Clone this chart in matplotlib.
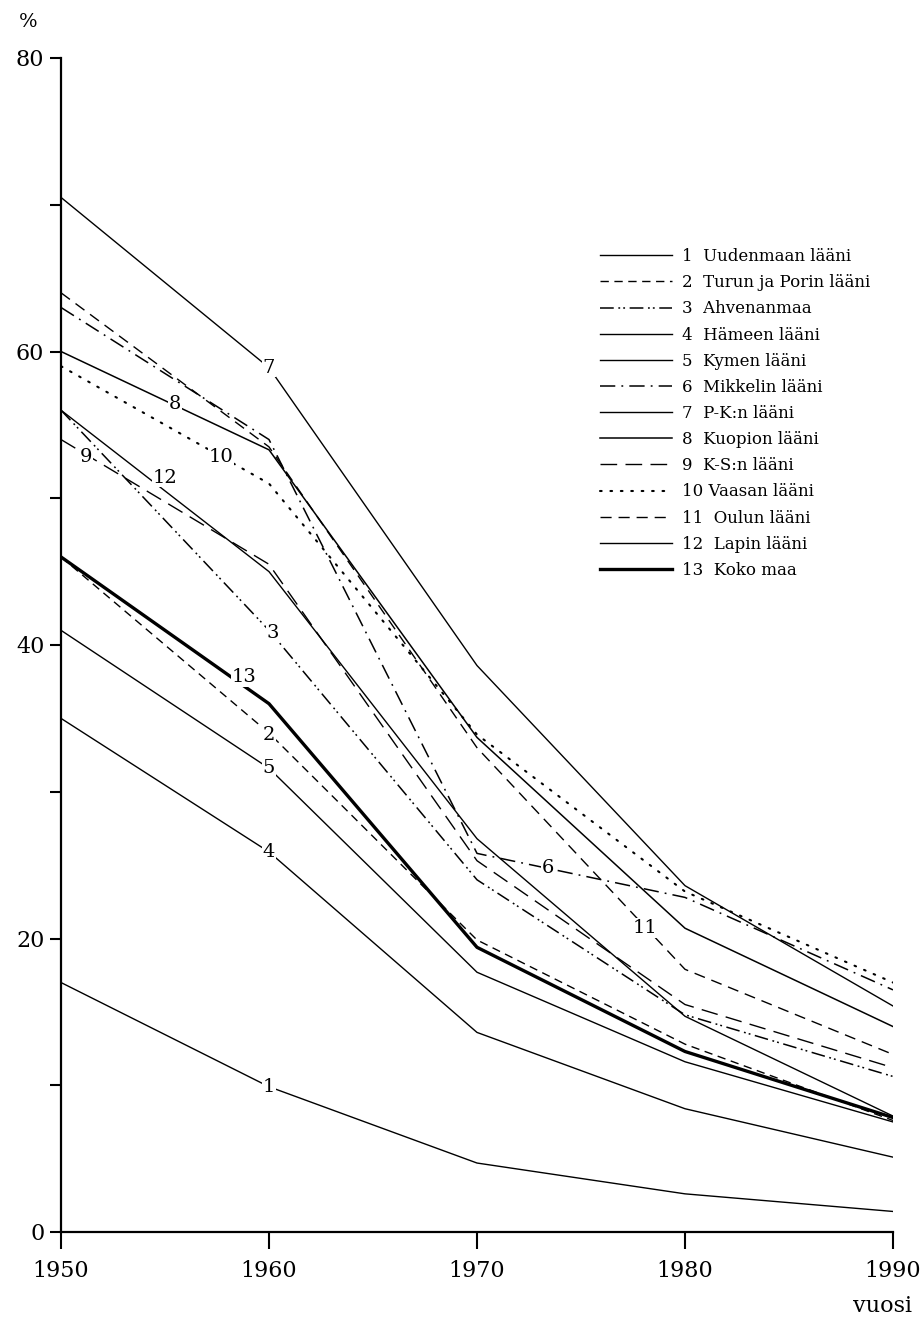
import matplotlib
matplotlib.use("Agg")
import matplotlib.pyplot as plt

# Years on the x axis
YEARS = [1950, 1960, 1970, 1980, 1990]

# Share (%) per province
S1_UUDENMAA = [17.0, 9.9, 4.7, 2.6, 1.4]
S2_TURUN_PORIN = [46.0, 34.0, 19.9, 12.8, 7.6]
S3_AHVENANMAA = [56.0, 41.0, 24.0, 14.8, 10.6]
S4_HAMEEN = [35.0, 25.9, 13.6, 8.4, 5.1]
S5_KYMEN = [41.0, 31.6, 17.7, 11.6, 7.5]
S6_MIKKELIN = [63.0, 54.0, 25.8, 22.8, 16.5]
S7_PK = [70.5, 58.9, 38.6, 23.6, 15.4]
S8_KUOPION = [60.0, 53.3, 33.7, 20.7, 14.0]
S9_KS = [54.0, 45.5, 25.3, 15.5, 11.2]
S10_VAASAN = [59.0, 51.0, 33.9, 23.2, 17.0]
S11_OULUN = [64.0, 53.5, 33.0, 17.9, 12.1]
S12_LAPIN = [56.0, 45.0, 26.8, 14.7, 7.9]
S13_KOKO_MAA = [46.0, 36.0, 19.4, 12.3, 7.8]

LEGEND_LABELS = [
    "1  Uudenmaan lääni",
    "2  Turun ja Porin lääni",
    "3  Ahvenanmaa",
    "4  Hämeen lääni",
    "5  Kymen lääni",
    "6  Mikkelin lääni",
    "7  P-K:n lääni",
    "8  Kuopion lääni",
    "9  K-S:n lääni",
    "10 Vaasan lääni",
    "11  Oulun lääni",
    "12  Lapin lääni",
    "13  Koko maa",
]

# in-chart number labels: (text, year, value)
LINE_LABELS = [
    ("7", 1960.0, 58.9),
    ("8", 1955.5, 56.4),
    ("10", 1957.7, 52.8),
    ("9", 1951.2, 52.8),
    ("12", 1955.0, 51.4),
    ("3", 1960.2, 40.8),
    ("13", 1958.8, 37.8),
    ("2", 1960.0, 33.9),
    ("5", 1960.0, 31.6),
    ("4", 1960.0, 25.9),
    ("1", 1960.0, 9.9),
    ("6", 1973.4, 24.8),
    ("11", 1978.1, 20.7),
]

SERIES = [S1_UUDENMAA, S2_TURUN_PORIN, S3_AHVENANMAA, S4_HAMEEN, S5_KYMEN,
          S6_MIKKELIN, S7_PK, S8_KUOPION, S9_KS, S10_VAASAN, S11_OULUN,
          S12_LAPIN, S13_KOKO_MAA]

STYLES = [
    dict(ls="-", lw=1.0),
    dict(ls=(0, (6, 4)), lw=1.0),
    dict(ls=(0, (9, 3, 1.2, 2, 1.2, 3)), lw=1.1),
    dict(ls="-", lw=1.0),
    dict(ls="-", lw=1.0),
    dict(ls=(0, (10, 4, 1.2, 4)), lw=1.1),
    dict(ls="-", lw=1.0),
    dict(ls="-", lw=1.1),
    dict(ls=(0, (12, 6)), lw=1.0),
    dict(ls=(0, (0.8, 4.2)), lw=1.5, dash_capstyle="round"),
    dict(ls=(0, (8, 5)), lw=1.0),
    dict(ls="-", lw=1.0),
    dict(ls="-", lw=2.4),
]

FONT = "DejaVu Serif"
plt.rcParams["font.family"] = [FONT]

W, H = 922, 1323
fig = plt.figure(figsize=(W / 100, H / 100), dpi=100)
ax = fig.add_axes([61 / W, 1 - 1232 / H, (893 - 61) / W, (1232 - 58) / H])

for vals, style, lab in zip(SERIES, STYLES, LEGEND_LABELS):
    ax.plot(YEARS, vals, color="black", label=lab, **style)

for txt, x, y in LINE_LABELS:
    ax.text(x, y, txt, ha="center", va="center", fontsize=14, family=FONT,
            bbox=dict(facecolor="white", edgecolor="none", pad=0.5), zorder=5)

ax.set_xlim(1950, 1990)
ax.set_ylim(0, 80)
for side in ("top", "right"):
    ax.spines[side].set_visible(False)
ax.spines["left"].set_linewidth(1.6)
ax.spines["bottom"].set_linewidth(1.6)

ax.set_xticks(YEARS)
ax.set_yticks(range(0, 81, 10))
ax.set_yticklabels(["0", "", "20", "", "40", "", "60", "", "80"])
ax.tick_params(axis="y", direction="out", length=8, width=1.5, pad=4, labelsize=16)
ax.tick_params(axis="x", direction="out", length=12, width=1.5, pad=8, labelsize=16)

fig.text(28 / W, 1 - 22 / H, "%", fontsize=14, ha="center", va="center")
fig.text(882 / W, 1 - 1306 / H, "vuosi", fontsize=16, ha="center", va="center")

leg = ax.legend(loc="upper left", bbox_to_anchor=((600 - 61) / (893 - 61), (1232 - 248) / (1232 - 58)),
                frameon=False, fontsize=12, handlelength=4.3, handletextpad=0.6,
                labelspacing=0.55, borderaxespad=0, borderpad=0)

fig.savefig("out.png", dpi=100)
